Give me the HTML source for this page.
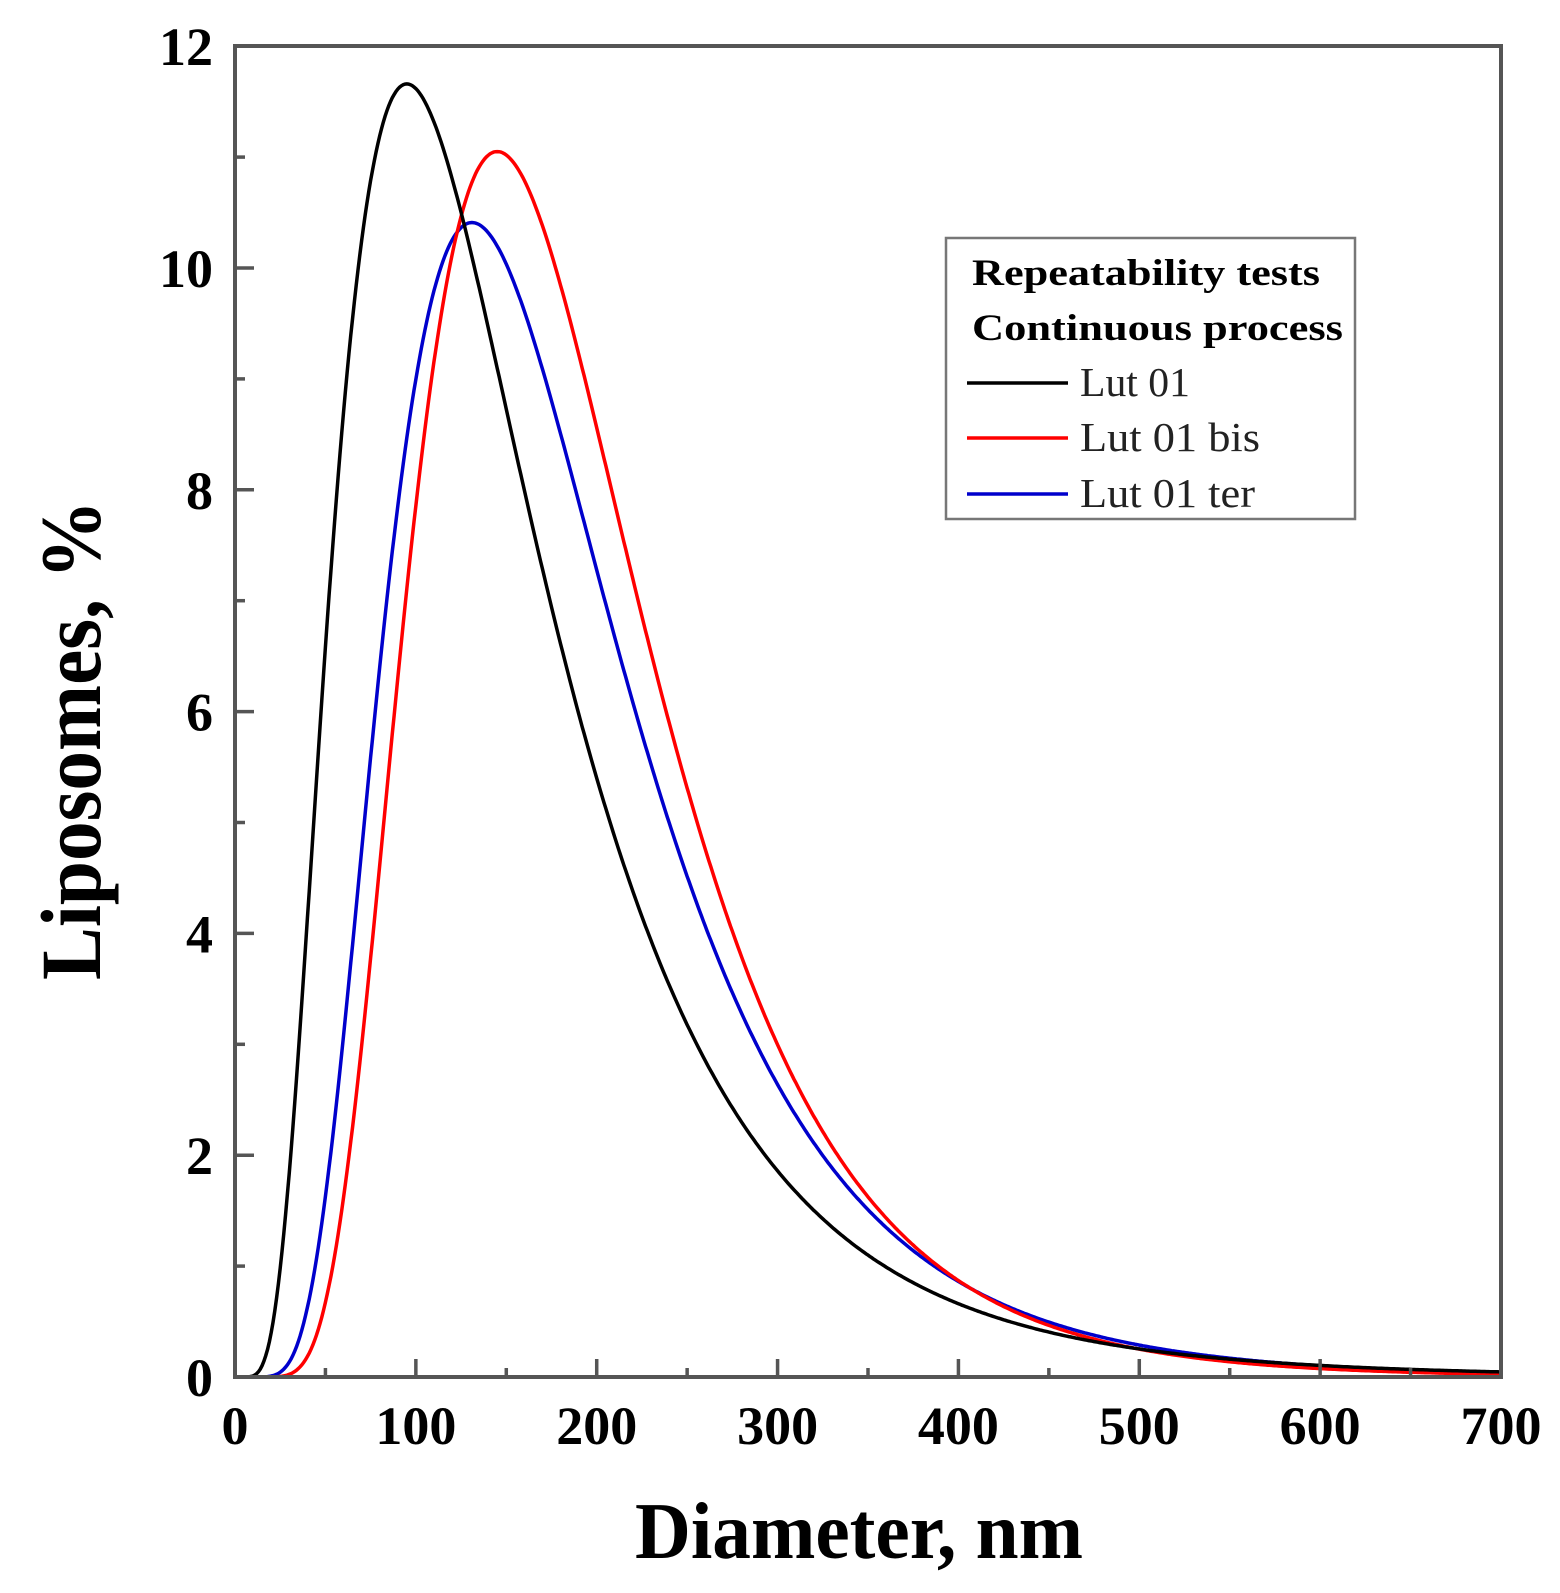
<!DOCTYPE html>
<html><head><meta charset="utf-8"><style>
html,body{margin:0;padding:0;background:#fff;}
svg{display:block;}
text{font-family:"Liberation Serif",serif;}
</style></head><body>
<svg id="s" width="1560" height="1593" viewBox="0 0 1560 1593" xmlns="http://www.w3.org/2000/svg">
<rect width="1560" height="1593" fill="#fff"/>
<g id="curves" fill="none" stroke-width="3.5"></g>
<rect x="235" y="46" width="1266" height="1331" fill="none" stroke="#555" stroke-width="4"/>
<g id="ticks" stroke="#555" stroke-width="3.5"></g>
<g id="labels" font-weight="bold" font-size="54" fill="#000"></g>
<text x="859" y="1558" font-size="80" font-weight="bold" text-anchor="middle" textLength="448" lengthAdjust="spacingAndGlyphs">Diameter, nm</text>
<text transform="translate(100,740) rotate(-90)" font-size="86" font-weight="bold" text-anchor="middle" textLength="480" lengthAdjust="spacingAndGlyphs">Liposomes, %</text>
<rect x="946" y="238" width="409" height="281" fill="#fff" stroke="#777" stroke-width="2.5"/>
<text x="972" y="285" font-size="37" font-weight="bold" textLength="348" lengthAdjust="spacingAndGlyphs">Repeatability tests</text>
<text x="972" y="340" font-size="37" font-weight="bold" textLength="371" lengthAdjust="spacingAndGlyphs">Continuous process</text>
<line x1="967" y1="383" x2="1068" y2="383" stroke="#000" stroke-width="3.5"/>
<line x1="967" y1="438" x2="1068" y2="438" stroke="#f00" stroke-width="3.5"/>
<line x1="967" y1="494" x2="1068" y2="494" stroke="#00c" stroke-width="3.5"/>
<text x="1080" y="396" font-size="41" fill="#222" textLength="110" lengthAdjust="spacingAndGlyphs">Lut 01</text>
<text x="1080" y="451" font-size="41" fill="#222" textLength="180" lengthAdjust="spacingAndGlyphs">Lut 01 bis</text>
<text x="1080" y="507" font-size="41" fill="#222" textLength="175" lengthAdjust="spacingAndGlyphs">Lut 01 ter</text>
</svg>
<script>
var NS="http://www.w3.org/2000/svg";
function X(v){return 235+v*1266/700;}
function Y(v){return 1377-v*110.9;}
function el(p,t,a,txt){var e=document.createElementNS(NS,t);for(var k in a)e.setAttribute(k,a[k]);if(txt!==undefined)e.textContent=txt;p.appendChild(e);return e;}
var tk=document.getElementById('ticks'),lb=document.getElementById('labels');
for(var v=0;v<=700;v+=50){var maj=v%100==0;if(v>0&&v<700)el(tk,'line',{x1:X(v),x2:X(v),y1:1377,y2:1377-(maj?18:9)});
 if(maj)el(lb,'text',{x:X(v),y:1444,'text-anchor':'middle'},String(v));}
for(var v=0;v<=12;v++){var maj=v%2==0;if(v>0&&v<12)el(tk,'line',{x1:235,x2:235+(maj?19:10),y1:Y(v),y2:Y(v)});
 if(maj)el(lb,'text',{x:213,y:Y(v)+19,'text-anchor':'end'},String(v));}
var cv=document.getElementById('curves');
var series=[["#0000cc",131,10.41,0.50],["#ff0000",145,11.05,0.45],["#000000",95,11.66,0.60]];
series.forEach(function(s){var d="";for(var x=1;x<=700;x+=1){var l=Math.log(x/s[1]);var y=s[2]*Math.exp(-l*l/(2*s[3]*s[3]));d+=(x==1?"M":"L")+X(x).toFixed(1)+","+Y(y).toFixed(1);}
 el(cv,'path',{d:d,stroke:s[0]});});
</script>
</body></html>
